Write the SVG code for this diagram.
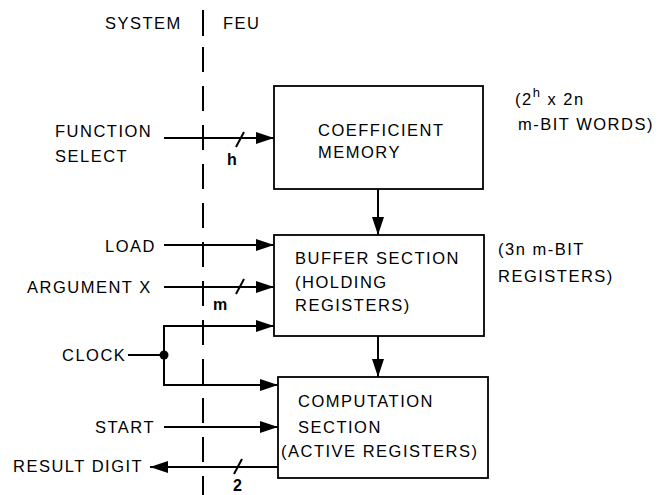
<svg xmlns="http://www.w3.org/2000/svg" width="663" height="495" viewBox="0 0 663 495">
<style>
text{font-family:"Liberation Sans",Arial,sans-serif;font-size:16.5px;letter-spacing:1.5px;fill:#000}
.box{fill:#fff;stroke:#000;stroke-width:1.8}
.ln{fill:none;stroke:#000;stroke-width:2}
.arr{marker-end:url(#ah)}
.sep{stroke:#000;stroke-width:2;fill:none}
.small{font-size:16px;letter-spacing:0;font-weight:bold}
</style>
<defs>
<marker id="ah" markerUnits="userSpaceOnUse" markerWidth="18" markerHeight="12" refX="18" refY="6" orient="auto">
<path d="M0,0 L18,6 L0,12 z" fill="#000"/>
</marker>
</defs>
<rect width="663" height="495" fill="#fff"/>

<g id="boundary">
<line class="sep" x1="203" y1="10" x2="203" y2="36"/>
<line class="sep" x1="203" y1="47" x2="203" y2="495" stroke-dasharray="25 14"/>
<text x="105" y="29">SYSTEM</text>
<text x="223" y="29">FEU</text>
</g>

<g id="coefficient-memory">
<rect class="box" x="274" y="86" width="209" height="103"/>
<text x="318" y="136">COEFFICIENT</text>
<text x="318" y="158">MEMORY</text>
</g>

<g id="buffer-section">
<rect class="box" x="274" y="235" width="210" height="101"/>
<text x="295" y="264">BUFFER SECTION</text>
<text x="295" y="288">(HOLDING</text>
<text x="295" y="311">REGISTERS)</text>
</g>

<g id="computation-section">
<rect class="box" x="278" y="377" width="210" height="101"/>
<text x="298" y="407">COMPUTATION</text>
<text x="298" y="433">SECTION</text>
<text x="281" y="457">(ACTIVE REGISTERS)</text>
</g>

<g id="notes">
<text x="515" y="105">(2<tspan dy="-8" font-size="13">h</tspan><tspan dy="8"> x 2n</tspan></text>
<text x="518" y="130">m-BIT WORDS)</text>
<text x="498" y="255">(3n m-BIT</text>
<text x="498" y="282">REGISTERS)</text>
</g>

<g id="inputs">
<text x="55" y="137">FUNCTION</text>
<text x="55" y="162">SELECT</text>
<text x="105" y="252">LOAD</text>
<text x="27" y="293">ARGUMENT X</text>
<text x="62" y="361">CLOCK</text>
<text x="95" y="433">START</text>
<text x="13" y="472">RESULT DIGIT</text>
</g>

<g id="connectors">
<line class="ln arr" x1="164" y1="138" x2="274" y2="138"/>
<line class="ln" x1="236" y1="147" x2="244" y2="132"/>
<text x="227" y="165" class="small">h</text>

<line class="ln arr" x1="378" y1="189" x2="378" y2="235"/>
<line class="ln arr" x1="378" y1="336" x2="378" y2="377"/>

<line class="ln arr" x1="164" y1="245" x2="274" y2="245"/>
<line class="ln arr" x1="164" y1="287" x2="274" y2="287"/>
<line class="ln" x1="236" y1="294" x2="244" y2="279"/>
<text x="213" y="310" class="small">m</text>

<line class="ln" x1="128" y1="355" x2="164" y2="355"/>
<line class="ln" x1="164" y1="325" x2="164" y2="386"/>
<line class="ln arr" x1="163" y1="326" x2="274" y2="326"/>
<line class="ln arr" x1="163" y1="385" x2="278" y2="385"/>
<circle cx="164" cy="355" r="4.5" fill="#000"/>

<line class="ln arr" x1="164" y1="427" x2="278" y2="427"/>
<line class="ln arr" x1="278" y1="467" x2="150" y2="467"/>
<line class="ln" x1="234" y1="474" x2="242" y2="459"/>
<text x="233" y="491" class="small">2</text>
</g>
</svg>
